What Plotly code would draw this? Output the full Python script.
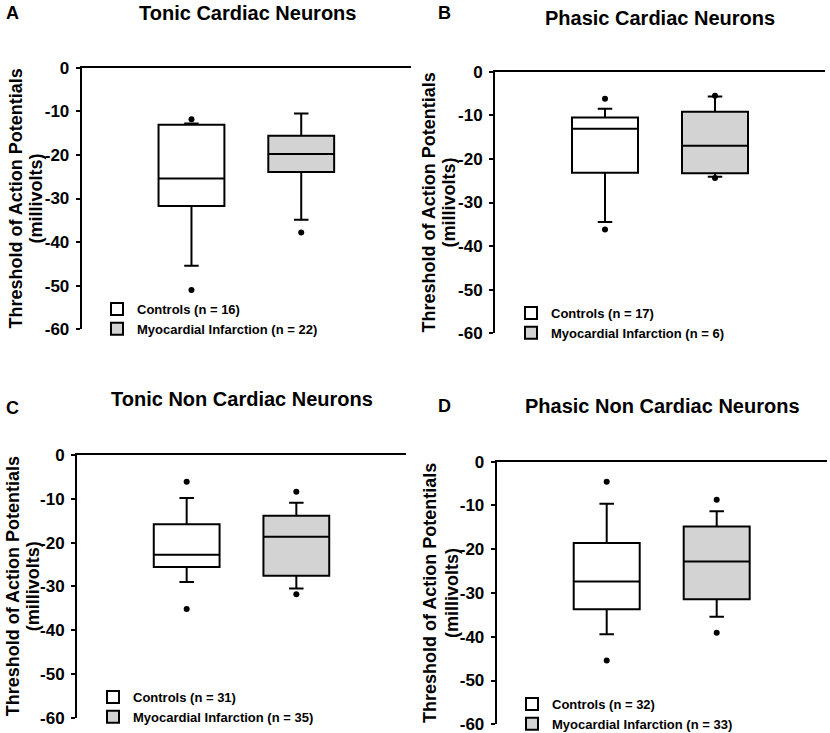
import plotly.graph_objects as go

W, H = 830, 733
FONT = "Arial, Liberation Sans, sans-serif"

# panel labels and titles
letters = ["A", "B", "C", "D"]
titles = ["Tonic Cardiac Neurons", "Phasic Cardiac Neurons",
          "Tonic Non Cardiac Neurons", "Phasic Non Cardiac Neurons"]
y_title = ["Threshold of Action Potentials", "(millivolts)"]
n_controls = [16, 17, 31, 32]
n_mi = [22, 6, 35, 33]

# box statistics (millivolts)
ctrl_lower = [-45.4, -34.5, -29.0, -39.4]
ctrl_q1 = [-31.7, -23.2, -25.6, -33.7]
ctrl_median = [-25.4, -13.1, -22.8, -27.4]
ctrl_q3 = [-13.1, -10.5, -15.8, -18.6]
ctrl_upper = [-12.8, -8.5, -9.8, -9.6]
ctrl_outliers = [[-11.8, -51.0], [-6.2, -36.2], [-6.1, -35.2], [-4.6, -45.4]]

mi_lower = [-34.9, -24.1, -30.5, -35.4]
mi_q1 = [-23.9, -23.3, -27.6, -31.4]
mi_median = [-19.8, -17.0, -18.7, -22.8]
mi_q3 = [-15.6, -9.2, -13.9, -14.8]
mi_upper = [-10.5, -5.7, -10.9, -11.3]
mi_outliers = [[-37.8], [-5.5, -24.4], [-8.4, -31.8], [-8.7, -39.1]]

y_ticks = [0, -10, -20, -30, -40, -50, -60]
y_tick_text = ["0", "-10", "-20", "-30", "-40", "-50", "-60"]

# panel geometry in pixels: x0, x1, y_top, y_bottom
panels_px = [(81.7, 411, 67.7, 329.3), (495, 825, 71.7, 333.3),
             (77, 406, 455, 717.7), (496.7, 826.7, 461.7, 724.3)]
title_px = [(247, 13), (660, 18), (242, 399), (662, 406)]
letter_px = [(12.5, 13), (444, 13), (12, 408), (444, 406)]
legend_px = [(137, 310), (551, 314), (133, 698), (552, 705)]
ytitle_px = [(15, 35), (428, 448), (13, 33), (430, 452)]


def px_x(v):
    return v / W


def px_y(v):
    return 1 - v / H


fig = go.Figure()
layout = dict(
    width=W, height=H, margin=dict(l=0, r=0, t=0, b=0, autoexpand=False),
    paper_bgcolor="white", plot_bgcolor="white",
    font=dict(family=FONT, color="black"),
    showlegend=True, annotations=[],
)

for i in range(4):
    sfx = "" if i == 0 else str(i + 1)
    xa, ya = "x" + sfx, "y" + sfx
    leg = "legend" + sfx
    x0, x1, yt, yb = panels_px[i]

    fig.add_trace(go.Box(
        x=[1], q1=[ctrl_q1[i]], median=[ctrl_median[i]], q3=[ctrl_q3[i]],
        lowerfence=[ctrl_lower[i]], upperfence=[ctrl_upper[i]],
        name=f"Controls (n = {n_controls[i]})", width=0.6, whiskerwidth=0.22,
        fillcolor="white", line=dict(color="black", width=2),
        boxpoints=False, xaxis=xa, yaxis=ya, legend=leg))
    fig.add_trace(go.Box(
        x=[2], q1=[mi_q1[i]], median=[mi_median[i]], q3=[mi_q3[i]],
        lowerfence=[mi_lower[i]], upperfence=[mi_upper[i]],
        name=f"Myocardial Infarction (n = {n_mi[i]})", width=0.6, whiskerwidth=0.22,
        fillcolor="#d3d3d3", line=dict(color="black", width=2),
        boxpoints=False, xaxis=xa, yaxis=ya, legend=leg))
    # outliers
    fig.add_trace(go.Scatter(
        x=[1] * len(ctrl_outliers[i]) + [2] * len(mi_outliers[i]),
        y=ctrl_outliers[i] + mi_outliers[i], mode="markers",
        marker=dict(color="black", size=6), showlegend=False,
        xaxis=xa, yaxis=ya))

    layout["xaxis" + sfx] = dict(
        domain=[px_x(x0), px_x(x1)], range=[0, 3], anchor=ya, side="top",
        showline=True, linecolor="black", linewidth=2, ticks="",
        showticklabels=False, showgrid=False, zeroline=False,
        automargin=False, fixedrange=True)
    layout["yaxis" + sfx] = dict(
        domain=[px_y(yb), px_y(yt)], range=[-60, 0], anchor=xa,
        tickvals=y_ticks, ticktext=y_tick_text, ticks="outside", ticklen=4,
        tickwidth=2, tickcolor="black", showline=True, linecolor="black",
        linewidth=2, showgrid=False, zeroline=False, ticklabelstandoff=3,
        ticklabeloverflow="allow", automargin=False,
        tickfont=dict(size=17, weight="bold", family=FONT))
    lx, ly = legend_px[i]
    layout[leg] = dict(
        x=px_x(lx - 40), y=px_y(ly - 16), xanchor="left", yanchor="top",
        bgcolor="rgba(0,0,0,0)", font=dict(size=13, weight="bold", family=FONT),
        tracegroupgap=0, itemsizing="constant")

    # two-line y axis title, centred on the panel
    for line, xpos in zip(y_title, ytitle_px[i]):
        layout["annotations"].append(dict(
            text=line, textangle=-90, x=px_x(xpos), y=0.5, xref="paper",
            yref=ya + " domain", xanchor="center", yanchor="middle",
            showarrow=False, font=dict(size=18, weight="bold", family=FONT)))

    tx, ty = title_px[i]
    layout["annotations"].append(dict(
        text=titles[i], x=px_x(tx), y=px_y(ty), xref="paper", yref="paper",
        xanchor="center", yanchor="middle", showarrow=False,
        font=dict(size=20, weight="bold", family=FONT)))
    cx, cy = letter_px[i]
    layout["annotations"].append(dict(
        text=letters[i], x=px_x(cx), y=px_y(cy), xref="paper", yref="paper",
        xanchor="center", yanchor="middle", showarrow=False,
        font=dict(size=18, weight="bold", family=FONT)))

fig.update_layout(**layout)
# drop the default page margin so the figure sits at the window's corner
fig.write_html("out.html", config={"displayModeBar": False},
               post_script="document.body.style.margin = '0';")
